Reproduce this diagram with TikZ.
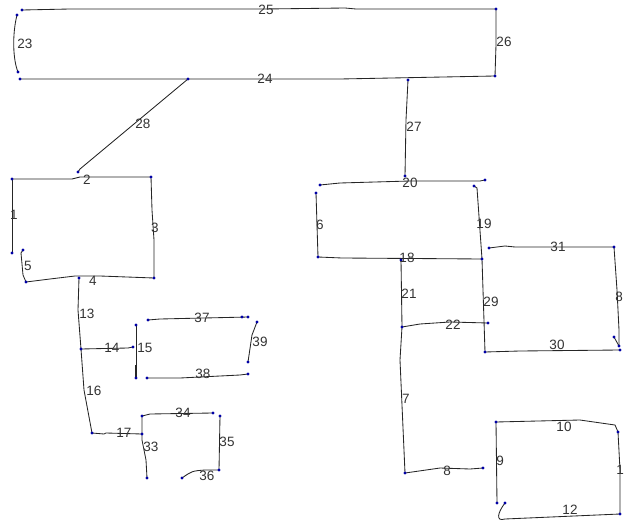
\documentclass[tikz,border=0pt]{standalone}
\usepackage{fontspec}
\setmainfont{Liberation Sans}
\begin{document}
\begin{tikzpicture}[x=1pt,y=-1pt,
  stroke/.style={draw=black!85, line width=0.85pt, line join=round},
  lbl/.style={font=\fontsize{13.5}{15}\selectfont, text=black!80, inner sep=0pt},
  endpt/.style={circle, fill=blue!65!black, inner sep=0pt, minimum size=3.2pt}]
\useasboundingbox (0,0) rectangle (624,524);
% ---------- end points ----------
\coordinate (c25a) at (22,10);   \coordinate (TR) at (496,9);
\coordinate (c23a) at (17,15);   \coordinate (c23b) at (18,72);
\coordinate (c24a) at (20,79);   \coordinate (BR) at (495,76);
\coordinate (c28a) at (188,79);  \coordinate (c28b) at (78,172);
\coordinate (c27a) at (408,80);  \coordinate (c27b) at (405,176);
\coordinate (L2a) at (12,179);   \coordinate (L2b) at (151,177);
\coordinate (L1b) at (12,253);   \coordinate (L3b) at (154,278);
\coordinate (L5a) at (23,250);   \coordinate (L5b) at (26,282);
\coordinate (L13a) at (79,278);  \coordinate (L13b) at (81,349);
\coordinate (L14b) at (133,347);
\coordinate (L15a) at (136,325); \coordinate (L15b) at (136,378);
\coordinate (L16b) at (92,433);  \coordinate (L17b) at (142,434);
\coordinate (L34a) at (142,416); \coordinate (L34b) at (213,413);
\coordinate (L33b) at (147,478);
\coordinate (L35a) at (220,416); \coordinate (L35b) at (219,470);
\coordinate (L36a) at (182,478);
\coordinate (L37a) at (148,320); \coordinate (L37m) at (242,317); \coordinate (L37b) at (248,317);
\coordinate (L38a) at (147,378); \coordinate (L38b) at (248,374);
\coordinate (L39a) at (257,322); \coordinate (L39b) at (248,362);
\coordinate (M20a) at (320,185); \coordinate (M20b) at (485,180);
\coordinate (M6a) at (316,193);  \coordinate (M6b) at (318,257);
\coordinate (M19a) at (474,186); \coordinate (M18b) at (482,259);
\coordinate (M21a) at (401,260); \coordinate (M21b) at (402,327);
\coordinate (M22b) at (488,323); \coordinate (M29b) at (485,352);
\coordinate (M31a) at (489,248); \coordinate (M31b) at (614,247);
\coordinate (M32m) at (614,337); \coordinate (M32b) at (619,346);
\coordinate (M30b) at (620,350);
\coordinate (M7b) at (405,473);  \coordinate (M8b) at (483,468);
\coordinate (B10a) at (496,422); \coordinate (B10b) at (618,432);
\coordinate (B9b) at (497,503);
\coordinate (B12a) at (505,503); \coordinate (B12b) at (620,514);
% ---------- strokes ----------
\draw[stroke] (c25a) -- (70,9) -- (265,9) -- (345,8) -- (356,9) -- (TR);
\draw[stroke] (c23a) .. controls (12,35) and (13,60) .. (c23b);
\draw[stroke] (c24a) -- (100,79) -- (340,79) -- (BR);
\draw[stroke] (TR) -- (496,45) -- (BR);
\draw[stroke] (c28a) -- (80,169) -- (c28b);
\draw[stroke] (c27a) -- (406,120) -- (c27b);
\draw[stroke] (L2a) -- (72,179) -- (80,177) -- (L2b);
\draw[stroke] (L2a) -- (L1b);
\draw[stroke] (L2b) -- (152,210) -- (154,240) -- (L3b);
\draw[stroke] (L5a) -- (21,253) -- (23,275) -- (L5b);
\draw[stroke] (L5b) -- (50,279) -- (75,276) -- (100,276) -- (L3b);
\draw[stroke] (L13a) -- (78,310) -- (L13b);
\draw[stroke] (L13b) -- (128,348) -- (L14b);
\draw[stroke] (L15a) -- (L15b);
\draw[line width=1.8pt, black!85] (136,365) -- (L15b);
\draw[stroke] (L13b) -- (84,390) -- (L16b);
\draw[stroke] (L16b) -- (104,434) -- (106,433) -- (L17b);
\draw[stroke] (L34a) -- (142,440) -- (146,460) -- (L33b);
\draw[stroke] (L34a) -- (150,414) -- (L34b);
\draw[stroke] (L35a) -- (L35b);
\draw[stroke] (L36a) .. controls (192,471) .. (205,470) -- (L35b);
\draw[stroke] (L37a) -- (160,319) -- (L37b);
\draw[stroke] (L38a) -- (180,378) -- (240,375) -- (L38b);
\draw[stroke] (L39a) -- (252,335) -- (L39b);
\draw[stroke] (M20a) -- (340,183) -- (410,181) -- (480,181) -- (M20b);
\draw[stroke] (M6a) -- (M6b);
\draw[stroke] (M6b) -- (342,258) -- (M18b);
\draw[stroke] (M19a) -- (477,188) -- (M18b);
\draw[stroke] (M21a) -- (M21b);
\draw[stroke] (M21b) -- (420,324) -- (450,322) -- (M22b);
\draw[stroke] (M18b) -- (M29b);
\draw[stroke] (M31a) -- (505,246) -- (515,247) -- (M31b);
\draw[stroke] (M31b) -- (617,290) -- (619,330) -- (M32b);
\draw[stroke] (M32m) -- (M32b);
\draw[stroke] (M29b) -- (520,351) -- (M30b);
\draw[stroke] (M21b) -- (400,360) -- (M7b);
\draw[stroke] (M7b) -- (440,468) -- (470,469) -- (M8b);
\draw[stroke] (B10a) -- (580,420) -- (615,425) -- (B10b);
\draw[stroke] (B10a) -- (B9b);
\draw[stroke] (B12a) .. controls (498,512) and (495,522) .. (505,519) -- (B12b);
\draw[stroke] (B10b) -- (620,470) -- (B12b);
% ---------- end markers ----------
\foreach \p in {c25a,TR,c23a,c23b,c24a,BR,c28a,c28b,c27a,c27b,L2a,L2b,L1b,L3b,L5a,L5b,
  L13a,L13b,L14b,L15a,L15b,L16b,L17b,L34a,L34b,L33b,L35a,L35b,L36a,L37a,L37m,L37b,
  L38a,L38b,L39a,L39b,M20a,M20b,M6a,M6b,M19a,M18b,M21a,M21b,M22b,M29b,M31a,M31b,
  M32m,M32b,M30b,M7b,M8b,B10a,B10b,B9b,B12a,B12b}
  \node[endpt] at (\p) {};
% ---------- labels ----------
\node[lbl] (n25) at (266,10) {25};
\node[lbl] (n23) at (25,44) {23};
\node[lbl] (n24) at (265,79) {24};
\node[lbl] (n26) at (504,42) {26};
\node[lbl] (n28) at (143,124) {28};
\node[lbl] (n27) at (414,127) {27};
\node[lbl] (n2) at (87,180) {2};
\node[lbl] (n1) at (14,215) {1};
\node[lbl] (n3) at (155,228) {3};
\node[lbl] (n5) at (28,266) {5};
\node[lbl] (n4) at (93,281) {4};
\node[lbl] (n13) at (87,314) {13};
\node[lbl] (n14) at (112,348) {14};
\node[lbl] (n15) at (145,348) {15};
\node[lbl] (n16) at (94,391) {16};
\node[lbl] (n17) at (124,433) {17};
\node[lbl] (n33) at (151,447) {33};
\node[lbl] (n34) at (183,413) {34};
\node[lbl] (n35) at (227,442) {35};
\node[lbl] (n36) at (207,476) {36};
\node[lbl] (n37) at (202,318) {37};
\node[lbl] (n38) at (203,374) {38};
\node[lbl] (n39) at (260,342) {39};
\node[lbl] (n20) at (410,183) {20};
\node[lbl] (n6) at (320,225) {6};
\node[lbl] (n18) at (407,258) {18};
\node[lbl] (n19) at (484,224) {19};
\node[lbl] (n21) at (409,294) {21};
\node[lbl] (n22) at (453,325) {22};
\node[lbl] (n29) at (491,302) {29};
\node[lbl] (n31) at (558,247) {31};
\node[lbl] (n32) at (619,297) {8};
\node[lbl] (n30) at (557,345) {30};
\node[lbl] (n7) at (406,399) {7};
\node[lbl] (n8) at (447,471) {8};
\node[lbl] (n10) at (564,427) {10};
\node[lbl] (n9) at (500,461) {9};
\node[lbl] (n12) at (570,510) {12};
\node[lbl] (n11) at (620,470) {1};
\end{tikzpicture}
\end{document}
